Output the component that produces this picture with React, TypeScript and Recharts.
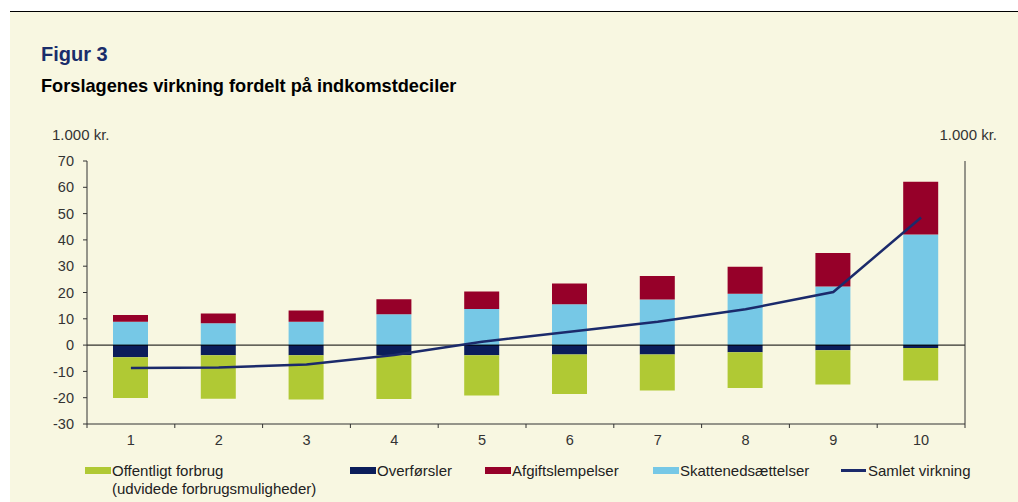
import React from 'react';
import { ComposedChart, Bar, Line, XAxis, YAxis, ReferenceLine } from 'recharts';

const deciles = ['1', '2', '3', '4', '5', '6', '7', '8', '9', '10'];
const offentligt = [-15.5, -16.5, -16.8, -16.6, -15.3, -15.0, -13.7, -13.6, -13.0, -12.4];
const overfoersler = [-4.6, -3.9, -3.9, -3.9, -3.9, -3.6, -3.6, -2.7, -2.0, -1.1];
const afgift = [2.55, 3.7, 4.3, 5.7, 6.7, 7.9, 9.0, 10.3, 12.7, 20.0];
const skat = [8.9, 8.3, 8.9, 11.7, 13.7, 15.5, 17.3, 19.5, 22.3, 42.1];
const samlet = [-8.7, -8.5, -7.4, -3.8, 1.3, 5.1, 8.9, 13.6, 20.2, 48.5];
const yTicks = [-30, -20, -10, 0, 10, 20, 30, 40, 50, 60, 70];

const data = deciles.map((d, i) => ({
  decil: d,
  offentligt: offentligt[i],
  overfoersler: overfoersler[i],
  afgift: afgift[i],
  skat: skat[i],
  samlet: samlet[i],
}));

const C_GREEN = '#B0C934';
const C_NAVY = '#0B1D5A';
const C_RED = '#960029';
const C_BLUE = '#76C8E6';
const C_LINE = '#1B2A6B';
const FONT = '"Liberation Sans", Arial, Helvetica, sans-serif';

const legendItems = [
  { label: 'Offentligt forbrug', label2: '(udvidede forbrugsmuligheder)', color: C_GREEN, x: 85, type: 'box' },
  { label: 'Overførsler', color: C_NAVY, x: 350, type: 'box' },
  { label: 'Afgiftslempelser', color: C_RED, x: 485, type: 'box' },
  { label: 'Skattenedsættelser', color: C_BLUE, x: 653, type: 'box' },
  { label: 'Samlet virkning', color: C_LINE, x: 841, type: 'line' },
];

const TICK_SIZE = 4;
const TICK_MARGIN = 7;

const CategoryTick = (props: any) => {
  const { x, y, payload, index, visibleTicksCount } = props;
  const half = payload && typeof payload.offset === 'number' && payload.offset > 0 ? payload.offset : 43.9;
  const axisY = y - TICK_SIZE - TICK_MARGIN;
  const isLast = index === (visibleTicksCount ?? deciles.length) - 1;
  return (
    <g>
      <line x1={x - half} x2={x - half} y1={axisY} y2={axisY + TICK_SIZE} stroke="#333" strokeWidth={1} />
      {isLast ? (
        <line x1={x + half} x2={x + half} y1={axisY} y2={axisY + TICK_SIZE} stroke="#333" strokeWidth={1} />
      ) : null}
      <text x={x} y={y} dy="0.71em" textAnchor="middle" fill="#333" fontSize={14.5} fontFamily={FONT}>
        {payload.value}
      </text>
    </g>
  );
};

export default function App() {
  const tickStyle = { fill: '#333', fontSize: 14.5, fontFamily: FONT };
  return (
    <div
      style={{
        position: 'absolute',
        left: 0,
        top: 0,
        width: 1018,
        height: 502,
        background: '#fff',
        overflow: 'hidden',
        fontFamily: FONT,
      }}
    >
      <div style={{ position: 'absolute', left: 10, top: 11, width: 1008, height: 1, background: '#000' }} />
      <div style={{ position: 'absolute', left: 10, top: 12, width: 1008, height: 490, background: '#F8F7E1' }} />
      <div
        style={{
          position: 'absolute',
          left: 41,
          top: 44,
          fontSize: 20,
          lineHeight: '20px',
          fontWeight: 'bold',
          color: '#1A2D6B',
          whiteSpace: 'nowrap',
        }}
      >
        Figur 3
      </div>
      <div
        style={{
          position: 'absolute',
          left: 41,
          top: 77,
          fontSize: 18.2,
          lineHeight: '18.2px',
          fontWeight: 'bold',
          color: '#000',
          whiteSpace: 'nowrap',
        }}
      >
        Forslagenes virkning fordelt på indkomstdeciler
      </div>
      <div
        style={{ position: 'absolute', left: 52, top: 126.5, fontSize: 15, lineHeight: '15px', color: '#333', whiteSpace: 'nowrap' }}
      >
        1.000 kr.
      </div>
      <div
        style={{
          position: 'absolute',
          right: 1018 - 997,
          top: 126.5,
          fontSize: 15,
          lineHeight: '15px',
          color: '#333',
          whiteSpace: 'nowrap',
        }}
      >
        1.000 kr.
      </div>
      <div style={{ position: 'absolute', left: 0, top: 0 }}>
        <ComposedChart
          width={1018}
          height={502}
          data={data}
          stackOffset="sign"
          margin={{ top: 161, right: 13, bottom: 48, left: 47 }}
        >
          <XAxis
            xAxisId="cat"
            dataKey="decil"
            height={30}
            stroke="#333"
            tickLine={false}
            tickSize={TICK_SIZE}
            tickMargin={TICK_MARGIN}
            tick={<CategoryTick />}
            interval={0}
          />
          <YAxis
            yAxisId="left"
            domain={[-30, 70]}
            ticks={yTicks}
            width={40}
            stroke="#333"
            tickSize={4}
            tickMargin={9}
            tick={tickStyle}
            interval={0}
          />
          <YAxis
            yAxisId="right"
            orientation="right"
            domain={[-30, 70]}
            ticks={yTicks}
            width={40}
            stroke="#333"
            tickSize={4}
            tickMargin={9}
            tick={{ ...tickStyle, textAnchor: 'start' }}
            interval={0}
          />
          <Bar xAxisId="cat" yAxisId="left" dataKey="overfoersler" stackId="a" fill={C_NAVY} barSize={35} isAnimationActive={false} />
          <Bar xAxisId="cat" yAxisId="left" dataKey="offentligt" stackId="a" fill={C_GREEN} barSize={35} isAnimationActive={false} />
          <Bar xAxisId="cat" yAxisId="left" dataKey="skat" stackId="a" fill={C_BLUE} barSize={35} isAnimationActive={false} />
          <Bar xAxisId="cat" yAxisId="left" dataKey="afgift" stackId="a" fill={C_RED} barSize={35} isAnimationActive={false} />
          <ReferenceLine xAxisId="cat" yAxisId="left" y={0} stroke="#000" strokeWidth={1} />
          <Line
            xAxisId="cat"
            yAxisId="left"
            type="linear"
            dataKey="samlet"
            stroke={C_LINE}
            strokeWidth={2.5}
            dot={false}
            activeDot={false}
            isAnimationActive={false}
          />
        </ComposedChart>
      </div>
      {legendItems.map((it) => (
        <div key={it.label}>
          {it.type === 'box' ? (
            <div style={{ position: 'absolute', left: it.x, top: 467, width: 26, height: 7, background: it.color }} />
          ) : (
            <div style={{ position: 'absolute', left: it.x, top: 469, width: 25, height: 2.5, background: it.color }} />
          )}
          <div
            style={{
              position: 'absolute',
              left: it.x + 27,
              top: 461.5,
              fontSize: 15,
              lineHeight: '18px',
              color: '#222',
              whiteSpace: 'nowrap',
            }}
          >
            {it.label}
            {it.label2 ? <br /> : null}
            {it.label2 ? it.label2 : null}
          </div>
        </div>
      ))}
    </div>
  );
}
